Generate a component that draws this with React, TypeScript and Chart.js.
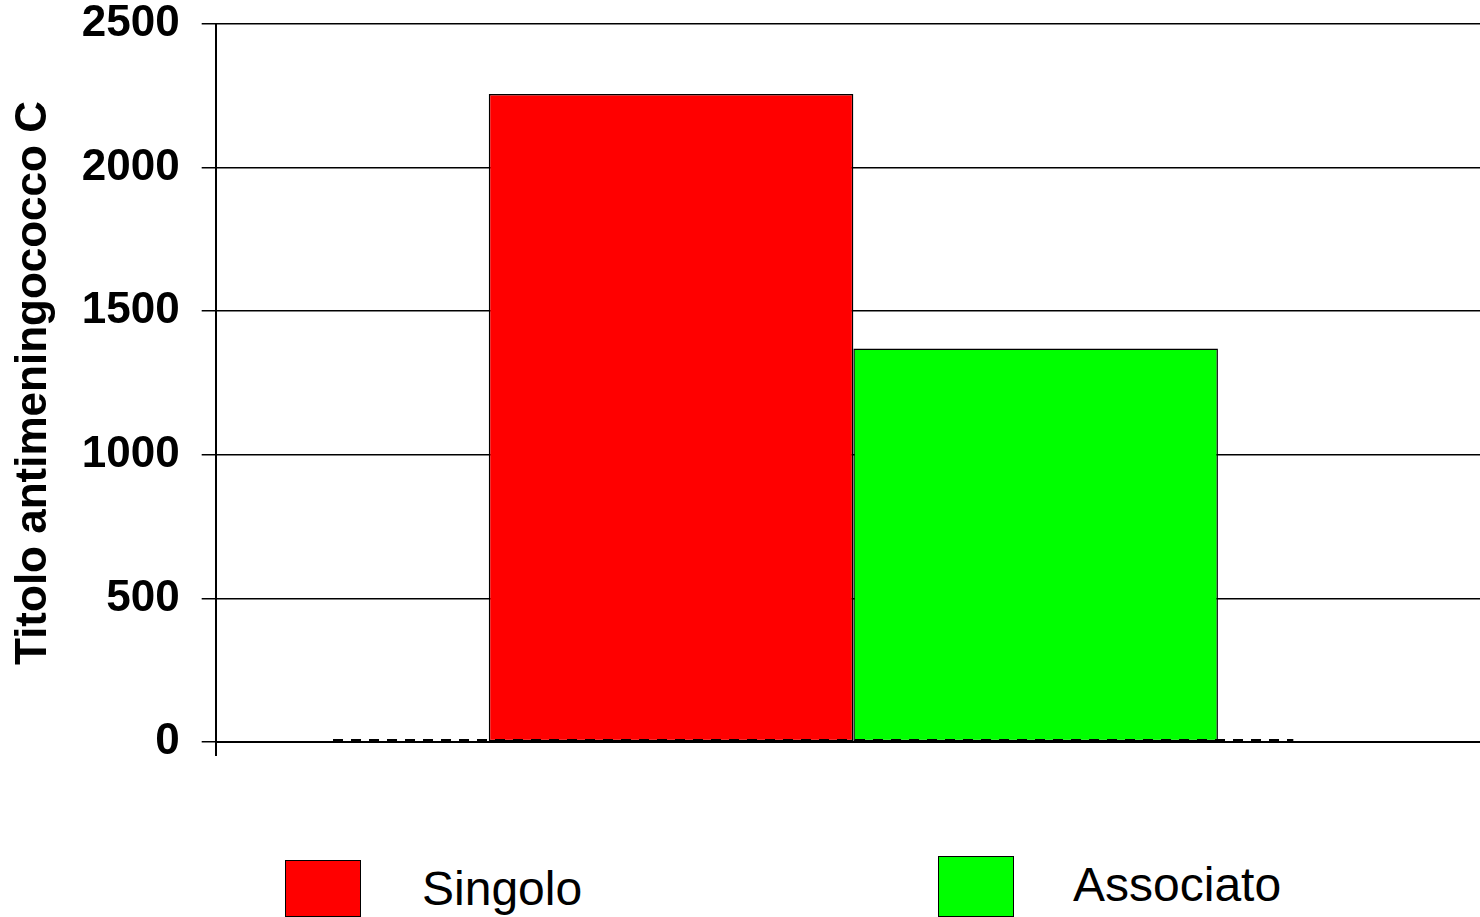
import React, { useEffect, useRef } from "react";
import { Chart, registerables } from "chart.js";

Chart.register(...registerables);

// Chart data
const categories = [""];
const seriesLabels = ["Singolo", "Associato"];
const seriesColors = ["#FF0000", "#00FF00"];
const singoloValues = [2256];
const associatoValues = [1370];
const yTickValues = [0, 500, 1000, 1500, 2000, 2500];
// Dashed reference line along the base (on a 0–1 horizontal scale)
const baselineX = [0.092, 0.845];
const baselineY = [5, 5];

const FONT = "'Liberation Sans', Arial, Helvetica, sans-serif";
const BAR_GROUP = 1.1435;

export default function App() {
  const canvasRef = useRef<HTMLCanvasElement | null>(null);

  useEffect(() => {
    const canvas = canvasRef.current;
    if (!canvas) return;
    const chart = new Chart(canvas, {
      type: "bar",
      data: {
        labels: categories,
        datasets: [
          {
            type: "line",
            label: "base",
            data: baselineX.map((x, i) => ({ x, y: baselineY[i] })),
            xAxisID: "xLine",
            borderColor: "#000000",
            borderWidth: 3,
            borderDash: [10, 8],
            pointRadius: 0,
            fill: false,
            clip: false,
            order: 0,
          } as any,
          {
            label: seriesLabels[0],
            data: singoloValues,
            backgroundColor: seriesColors[0],
            borderColor: "#000000",
            borderWidth: 1.5,
            borderSkipped: false,
            categoryPercentage: BAR_GROUP,
            barPercentage: 1,
            order: 1,
          },
          {
            label: seriesLabels[1],
            data: associatoValues,
            backgroundColor: seriesColors[1],
            borderColor: "#000000",
            borderWidth: 1.5,
            borderSkipped: false,
            categoryPercentage: BAR_GROUP,
            barPercentage: 1,
            order: 1,
          },
        ],
      },
      options: {
        responsive: false,
        animation: false,
        layout: { padding: { left: 7, right: 9, top: 4, bottom: 0 } },
        plugins: {
          legend: { display: false },
          tooltip: { enabled: false },
        },
        scales: {
          x: {
            type: "category",
            offset: true,
            grid: {
              offset: true,
              drawOnChartArea: false,
              drawTicks: true,
              tickLength: 14,
              color: "#000000",
              lineWidth: 2,
            },
            border: { display: true, color: "#000000", width: 2 },
            ticks: { display: false },
          },
          xLine: {
            type: "linear",
            display: false,
            offset: false,
            grid: { offset: false },
            min: 0,
            max: 1,
          },
          y: {
            min: 0,
            max: 2500,
            afterBuildTicks: (scale: any) => {
              scale.ticks = yTickValues.map((v) => ({ value: v }));
            },
            grid: {
              color: "#000000",
              lineWidth: 1.5,
              tickLength: 14,
            },
            border: { display: true, color: "#000000", width: 2 },
            ticks: {
              color: "#000000",
              padding: 22,
              callback: (v: any) => String(v),
              font: { family: FONT, size: 44, weight: "bold", lineHeight: 1 },
            },
            title: {
              display: true,
              text: "Titolo antimeningococco C",
              color: "#000000",
              padding: { top: 0, bottom: 0 },
              font: { family: FONT, size: 44, weight: "bold", lineHeight: 1.2 },
            },
          },
        },
      },
    });
    return () => chart.destroy();
  }, []);

  const legendItems = [
    { box: { left: 285, top: 860, width: 76, height: 57 }, textLeft: 422, textTop: 865 },
    { box: { left: 938, top: 856, width: 76, height: 61 }, textLeft: 1073, textTop: 861 },
  ];

  return (
    <div
      style={{
        position: "fixed",
        left: 0,
        top: 0,
        width: 1480,
        height: 917,
        overflow: "hidden",
        background: "#ffffff",
      }}
    >
      <canvas
        ref={canvasRef}
        width={1500}
        height={806}
        style={{ position: "absolute", left: 0, top: -20, width: 1500, height: 806 }}
      />
      {legendItems.map((item, i) => (
        <React.Fragment key={seriesLabels[i]}>
          <div
            style={{
              position: "absolute",
              left: item.box.left,
              top: item.box.top,
              width: item.box.width,
              height: item.box.height,
              boxSizing: "border-box",
              background: seriesColors[i],
              border: "1.5px solid #000000",
            }}
          />
          <div
            style={{
              position: "absolute",
              left: item.textLeft,
              top: item.textTop,
              fontFamily: FONT,
              fontSize: 48,
              lineHeight: "48px",
              color: "#000000",
              whiteSpace: "nowrap",
            }}
          >
            {seriesLabels[i]}
          </div>
        </React.Fragment>
      ))}
    </div>
  );
}
